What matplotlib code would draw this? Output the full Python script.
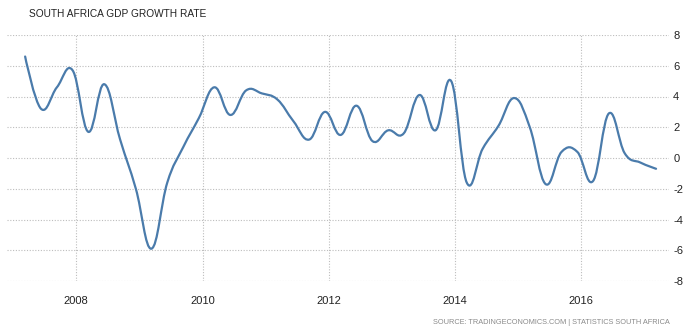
import numpy as np
import pandas as pd
import matplotlib
matplotlib.use("Agg")
import matplotlib.pyplot as plt
import matplotlib.dates as mdates
from matplotlib.path import Path
from matplotlib.patches import PathPatch

# quarterly GDP growth (annualized q/q, %), Q1 2007 .. Q1 2017
quarters = pd.period_range("2007Q1", "2017Q1", freq="Q")
gdp_growth = [6.6, 3.2, 4.6, 5.7, 1.7, 4.8, 1.2, -2.0, -5.9, -1.6,
              0.7, 2.6, 4.6, 2.8, 4.4, 4.2, 3.8, 2.4, 1.2, 3.0,
              1.5, 3.4, 1.1, 1.8, 1.6, 4.1, 1.8, 5.0, -1.6, 0.6,
              2.1, 3.9, 2.0, -1.7, 0.4, 0.4, -1.5, 2.9, 0.3, -0.3,
              -0.7]
y_ticks = [-8, -6, -4, -2, 0, 2, 4, 6, 8]

title = "SOUTH AFRICA GDP GROWTH RATE"
source = "SOURCE: TRADINGECONOMICS.COM | STATISTICS SOUTH AFRICA"

# points sit a couple of months into each quarter
dates = quarters.to_timestamp(how="start") + pd.DateOffset(months=2, days=10)
xs = mdates.date2num(dates.to_pydatetime())
ys = np.array(gdp_growth, dtype=float)


def spline_path(x, y, smoothing=1.5):
    # smooth spline: bezier control points taken from the neighbours
    n = len(x)
    denom = smoothing + 1
    lcx, lcy = x.copy(), y.copy()
    rcx, rcy = x.copy(), y.copy()
    for i in range(1, n - 1):
        lx, ly = x[i - 1], y[i - 1]
        nx, ny = x[i + 1], y[i + 1]
        px, py = x[i], y[i]
        lcx[i] = (smoothing * px + lx) / denom
        lcy[i] = (smoothing * py + ly) / denom
        rcx[i] = (smoothing * px + nx) / denom
        rcy[i] = (smoothing * py + ny) / denom
        corr = (rcy[i] - lcy[i]) * (rcx[i] - px) / (rcx[i] - lcx[i]) + py - rcy[i]
        lcy[i] += corr
        rcy[i] += corr
    verts = [(x[0], y[0])]
    codes = [Path.MOVETO]
    for i in range(1, n):
        verts += [(rcx[i - 1], rcy[i - 1]), (lcx[i], lcy[i]), (x[i], y[i])]
        codes += [Path.CURVE4] * 3
    return Path(verts, codes)


plt.rcParams["font.family"] = ["Liberation Sans", "DejaVu Sans"]

fig = plt.figure(figsize=(6.91, 3.33), dpi=100)
ax = fig.add_axes([7 / 691, 1 - 281 / 333, 662 / 691, 246 / 333])

patch = PathPatch(spline_path(xs, ys), facecolor="none", edgecolor="#4a7bab",
                  linewidth=1.6, capstyle="round", joinstyle="round", zorder=3)
ax.add_patch(patch)

left = mdates.date2num(pd.Timestamp("2006-11-26"))
right = mdates.date2num(pd.Timestamp("2017-05-25"))
ax.set_xlim(left, right)
ax.set_ylim(-8, 8)

ax.xaxis.set_major_locator(mdates.YearLocator(2))
ax.xaxis.set_major_formatter(mdates.DateFormatter("%Y"))
ax.set_yticks(y_ticks)
ax.set_yticklabels([str(t) for t in y_ticks])
ax.yaxis.tick_right()

ax.tick_params(axis="both", length=0, labelsize=8, colors="#222222")
ax.tick_params(axis="x", pad=10.5)
ax.tick_params(axis="y", pad=3)

ax.grid(True, color="#bdbdbd", linestyle=(0, (1, 1.5)), linewidth=0.8)
ax.set_axisbelow(True)
for s in ax.spines.values():
    s.set_visible(False)

fig.text(29 / 691, 1 - 14 / 333, title, ha="left", va="center",
         fontsize=7.3, color="#222222")
fig.text(670 / 691, 1 - 322 / 333, source, ha="right", va="center",
         fontsize=5.3, color="#8a8a8a")

fig.savefig("out.png", dpi=100)
